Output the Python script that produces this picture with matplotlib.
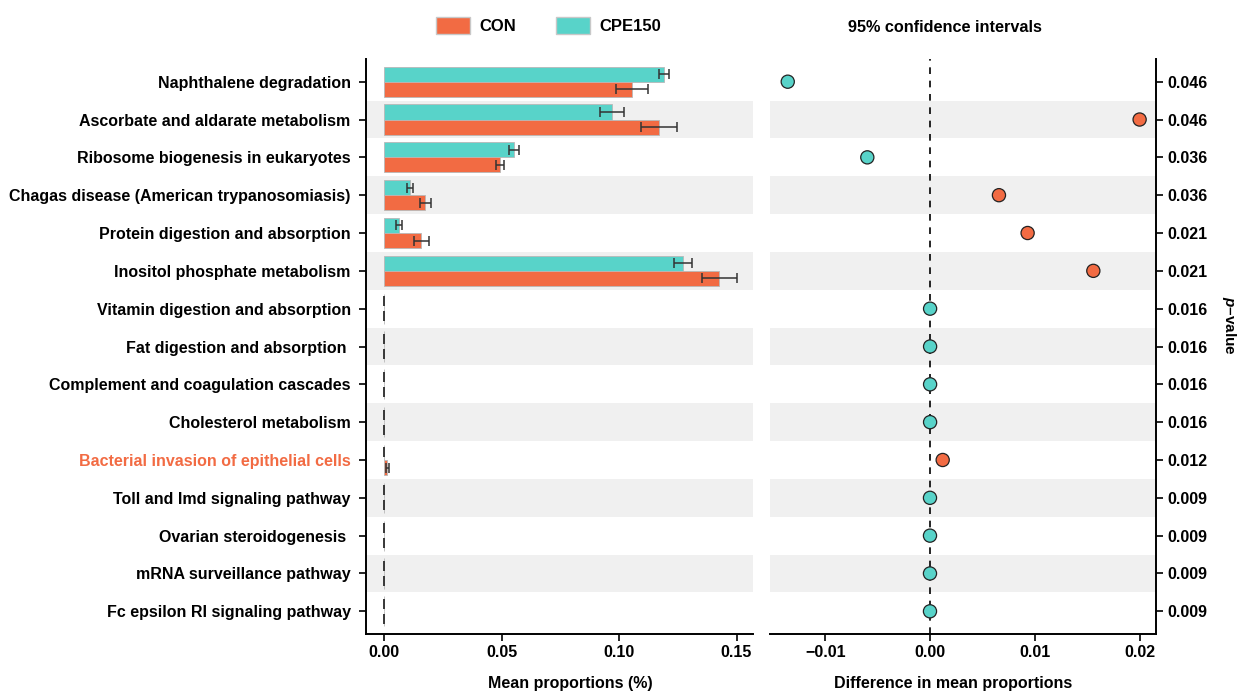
"""
plot.py

Extended error bar plot of differential KEGG pathways between CON and CPE150:
- left panel: mean proportions per group with error bars
- right panel: difference in mean proportions with p-values on the right axis
"""

import numpy as np
import matplotlib
import matplotlib.pyplot as plt
from matplotlib.patches import Patch

matplotlib.use('Agg')

# === Data ===
pathways = [
    "Naphthalene degradation",
    "Ascorbate and aldarate metabolism",
    "Ribosome biogenesis in eukaryotes",
    "Chagas disease (American trypanosomiasis)",
    "Protein digestion and absorption",
    "Inositol phosphate metabolism",
    "Vitamin digestion and absorption",
    "Fat digestion and absorption ",
    "Complement and coagulation cascades",
    "Cholesterol metabolism",
    "Bacterial invasion of epithelial cells",
    "Toll and Imd signaling pathway",
    "Ovarian steroidogenesis ",
    "mRNA surveillance pathway",
    "Fc epsilon RI signaling pathway",
]

con_mean = [0.1055, 0.1169, 0.0494, 0.0175, 0.0158, 0.1426,
            0.0001, 0.0001, 0.0001, 0.0001, 0.0014, 0.0001, 0.0001, 0.0001, 0.0001]
con_err = [0.0067, 0.0077, 0.0018, 0.0023, 0.0032, 0.0075,
           0.00005, 0.00005, 0.00005, 0.00005, 0.0005, 0.00005, 0.00005, 0.00005, 0.00005]

cpe_mean = [0.1190, 0.0970, 0.0554, 0.0111, 0.0065, 0.1271,
            0.0001, 0.0001, 0.0001, 0.0001, 0.0001, 0.0001, 0.0001, 0.0001, 0.0001]
cpe_err = [0.0021, 0.0053, 0.0022, 0.0012, 0.0013, 0.0039,
           0.00005, 0.00005, 0.00005, 0.00005, 0.00005, 0.00005, 0.00005, 0.00005, 0.00005]

diff_mean = [-0.01358, 0.01994, -0.0060, 0.00654, 0.00927, 0.01553,
             -0.00002, -0.00002, -0.00002, -0.00002, 0.00118, -0.00003, -0.00003, -0.00003, -0.00003]

p_values = ["0.046", "0.046", "0.036", "0.036", "0.021", "0.021", "0.016", "0.016",
            "0.016", "0.016", "0.012", "0.009", "0.009", "0.009", "0.009"]

highlight = "Bacterial invasion of epithelial cells"

# === Style ===
CON_COLOR = "#F26B43"
CPE_COLOR = "#58D3C9"
BAND_COLOR = "#F0F0F0"
FONT = "Liberation Sans"

plt.rcParams['font.family'] = [FONT, 'DejaVu Sans']
plt.rcParams['font.weight'] = 'bold'
plt.rcParams['mathtext.fontset'] = 'custom'
plt.rcParams['mathtext.bfit'] = f'{FONT}:italic:bold'
plt.rcParams['mathtext.rm'] = f'{FONT}:bold'

y = np.arange(len(pathways))
bar_h = 0.4

fig = plt.figure(figsize=(12.39, 6.91), dpi=100)
ax1 = fig.add_axes([366 / 1239, 57 / 691, 387 / 1239, 575 / 691])
ax2 = fig.add_axes([770 / 1239, 57 / 691, 386 / 1239, 575 / 691])

# alternating background bands
for ax in (ax1, ax2):
    for i in y[1::2]:
        ax.axhspan(i - 0.5, i + 0.5, color=BAND_COLOR, zorder=0, lw=0)
    ax.set_ylim(len(pathways) - 0.4, -0.6)

# === Left panel: mean proportions ===
err_kw = dict(ecolor='#333333', elinewidth=1.1, capsize=3.3, capthick=1.1)
ax1.barh(y - bar_h / 2, cpe_mean, height=bar_h, color=CPE_COLOR,
         edgecolor='#B8B8B8', linewidth=0.6, xerr=cpe_err, error_kw=err_kw, zorder=2)
ax1.barh(y + bar_h / 2, con_mean, height=bar_h, color=CON_COLOR,
         edgecolor='#B8B8B8', linewidth=0.6, xerr=con_err, error_kw=err_kw, zorder=2)

ax1.set_xlim(-0.0077, 0.157)
ax1.set_xticks([0.00, 0.05, 0.10, 0.15])
ax1.set_xticklabels(["0.00", "0.05", "0.10", "0.15"])
ax1.set_yticks(y)
ax1.set_yticklabels(pathways, fontsize=11.5)
for lbl in ax1.get_yticklabels():
    if lbl.get_text() == highlight:
        lbl.set_color(CON_COLOR)
ax1.set_xlabel("Mean proportions (%)", fontsize=11.5, fontweight='bold', va='top')
ax1.xaxis.set_label_coords((570 - 366) / 387, -42 / 575)
for side in ('top', 'right'):
    ax1.spines[side].set_visible(False)

# === Right panel: difference in mean proportions ===
ax2.axvline(0, color='black', linestyle=(0, (4, 4)), linewidth=1.2, zorder=1)
point_colors = [CON_COLOR if d > 0 else CPE_COLOR for d in diff_mean]
ax2.scatter(diff_mean, y, s=90, c=point_colors, edgecolors='#222222',
            linewidths=0.9, zorder=3)

ax2.set_xlim(-0.01527, 0.0215)
ax2.set_xticks([-0.01, 0.00, 0.01, 0.02])
ax2.set_xticklabels(["\u22120.01", "0.00", "0.01", "0.02"])
ax2.yaxis.tick_right()
ax2.set_yticks(y)
ax2.set_yticklabels(p_values, fontsize=11.5)
ax2.yaxis.set_label_position('right')
ax2.set_ylabel("$\\bfit{p}$\u2013value", rotation=270, fontsize=11,
               fontweight='bold', ha='center', va='center', rotation_mode='anchor')
ax2.yaxis.set_label_coords((1229 - 770) / 386, (634 - 325) / 575)
ax2.set_xlabel("Difference in mean proportions", fontsize=11.5,
               fontweight='bold', va='top')
ax2.xaxis.set_label_coords((953.5 - 770) / 386, -42 / 575)
for side in ('top', 'left'):
    ax2.spines[side].set_visible(False)

for ax in (ax1, ax2):
    for spine in ax.spines.values():
        spine.set_linewidth(1.4)
    ax.tick_params(axis='x', length=5, width=1.2, labelsize=11.5, pad=3)
    ax.tick_params(axis='y', length=5, width=1.2, pad=6)
    for lbl in ax.get_xticklabels() + ax.get_yticklabels():
        lbl.set_fontweight('bold')
ax2.tick_params(axis='y', pad=3)

# === Header: legend and CI title ===
handles = [Patch(facecolor=CON_COLOR, edgecolor='#C8C8C8', label='CON'),
           Patch(facecolor=CPE_COLOR, edgecolor='#C8C8C8', label='CPE150')]
fig.legend(handles=handles, loc='center left', bbox_to_anchor=(436 / 1239, 1 - 25.5 / 691),
           ncol=2, frameon=False, borderpad=0, borderaxespad=0,
           handlelength=2.05, handleheight=1.15, handletextpad=0.55,
           columnspacing=2.4, prop={'family': FONT, 'weight': 'bold', 'size': 12})
fig.text(945 / 1239, 1 - 27 / 691, "95% confidence intervals", ha='center', va='center',
         fontsize=11.7, fontweight='bold')

fig.savefig("out.png", dpi=100)
plt.close(fig)
